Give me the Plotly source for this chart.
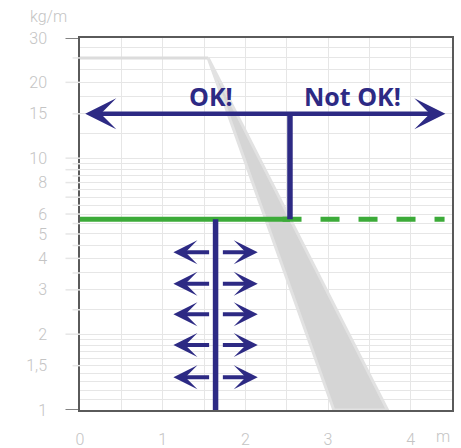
import numpy as np
import plotly.graph_objects as go

NAVY = "#2d2a84"
GREEN = "#3cab39"
GRID = "#e6e6e6"
AXIS = "#5a5a5a"
LABEL = "#c4c4c4"

# axes
X_TICKS = [0, 1, 2, 3, 4]
X_TICK_TEXT = ["0", "1", "2", "3", "4"]
X_GRID = [0.5, 1.5, 2.5, 3.5]
Y_TICKS = [1, 1.5, 2, 3, 4, 5, 6, 8, 10, 15, 20, 30]
Y_TICK_TEXT = ["1", "1,5", "2", "3", "4", "5", "6", "8", "10", "15", "20", "30"]
Y_GRID = [1.1, 1.2, 1.3, 1.4, 1.6, 1.7, 1.8, 1.9,
          2.5, 3.5, 4.5, 5.5, 6.5, 7, 7.5, 8.5, 9, 9.5,
          12.5, 17.5, 22.5, 25, 27.5]
LONG_TICKS = [1, 2, 3, 4, 5, 6, 7, 8, 9, 10, 20, 30]
SHORT_TICKS = [1.5, 2.5, 3.5, 4.5, 5.5, 6.5, 7.5, 8.5, 9.5, 15, 25]

# grey band (plateau, then falling wedge)
BAND_X = [0, 1.55]
BAND_Y = [25, 25]
WEDGE_X = [1.55, 3.72, 3.07]
WEDGE_Y = [25, 1, 1]

# limit lines
LIMIT_Y = 5.72
SPLIT_X = 2.54
DASH_X = [2.45, 4.41]
OK_Y = 15
OK_ARROW_X = [0.045, 4.42]
POST_X = 1.64

# small double arrows
SMALL_Y = [4.23, 3.17, 2.40, 1.81, 1.35]
LEFT_ARROW = [1.58, 1.13]   # tail, tip
RIGHT_ARROW = [1.71, 2.15]  # tail, tip

LABELS = ["OK!", "Not OK!"]
LABEL_X = [1.58, 3.30]
LABEL_Y = 17.6

fig = go.Figure()

fig.add_trace(go.Scatter(x=BAND_X, y=BAND_Y, mode="lines",
                         line=dict(color="#dcdcdc", width=3), hoverinfo="skip"))
fig.add_trace(go.Scatter(x=WEDGE_X + WEDGE_X[:1], y=WEDGE_Y + WEDGE_Y[:1], mode="lines",
                         fill="toself", fillcolor="#d5d5d5",
                         line=dict(color="#e2e2e2", width=3), hoverinfo="skip"))

# green limit: solid up to the split, dashed after it
fig.add_trace(go.Scatter(x=DASH_X, y=[LIMIT_Y] * 2, mode="lines",
                         line=dict(color=GREEN, width=5, dash="19px,19px")))
fig.add_trace(go.Scatter(x=[0, SPLIT_X], y=[LIMIT_Y] * 2, mode="lines",
                         line=dict(color=GREEN, width=5)))

# navy posts
fig.add_trace(go.Scatter(x=[SPLIT_X, SPLIT_X], y=[OK_Y, LIMIT_Y], mode="lines",
                         line=dict(color=NAVY, width=5.5)))
fig.add_trace(go.Scatter(x=[POST_X, POST_X], y=[LIMIT_Y, 1], mode="lines",
                         line=dict(color=NAVY, width=5.5)))

annotations = []


def arrow(x_tail, x_tip, y, width, size, both=False):
    return dict(x=x_tip, y=np.log10(y), ax=x_tail, ay=np.log10(y),
                xref="x", yref="y", axref="x", ayref="y", text="",
                showarrow=True, arrowhead=3, startarrowhead=3,
                arrowside="end+start" if both else "end",
                arrowwidth=width, arrowsize=size, startarrowsize=size,
                arrowcolor=NAVY, standoff=0, startstandoff=0)


annotations.append(arrow(OK_ARROW_X[0], OK_ARROW_X[1], OK_Y, 4.5, 1.15, both=True))
for yv in SMALL_Y:
    annotations.append(arrow(LEFT_ARROW[0], LEFT_ARROW[1], yv, 4, 1.0))
    annotations.append(arrow(RIGHT_ARROW[0], RIGHT_ARROW[1], yv, 4, 1.0))

for txt, xv in zip(LABELS, LABEL_X):
    annotations.append(dict(x=xv, y=np.log10(LABEL_Y), xref="x", yref="y", text=txt,
                            showarrow=False,
                            font=dict(family="Open Sans", size=25, color=NAVY, weight="bold")))

annotations.append(dict(x=-0.085, y=1.057, xref="paper", yref="paper", text="kg/m",
                        showarrow=False, xanchor="center", yanchor="middle",
                        font=dict(family="Roboto", size=16, color=LABEL, weight=300)))
annotations.append(dict(x=0.977, y=-0.072, xref="paper", yref="paper", text="m",
                        showarrow=False, xanchor="center", yanchor="middle",
                        font=dict(family="Roboto", size=16, color=LABEL, weight=300)))

# tick marks left of the y axis
shapes = []
for yv in LONG_TICKS:
    shapes.append(dict(type="line", xref="paper", yref="y", x0=-0.039, x1=0, y0=yv, y1=yv,
                       line=dict(color=GRID if yv not in (1, 30) else AXIS, width=1.5)))
for yv in SHORT_TICKS:
    shapes.append(dict(type="line", xref="paper", yref="y", x0=-0.02, x1=0, y0=yv, y1=yv,
                       line=dict(color=GRID, width=1.5)))

fig.update_layout(
    width=461, height=448,
    margin=dict(l=80, r=9, t=38, b=38),
    plot_bgcolor="white", paper_bgcolor="white",
    showlegend=False,
    annotations=annotations, shapes=shapes,
    font=dict(family="Roboto", size=16, color=LABEL, weight=300),
)
fig.update_xaxes(
    range=[0, 4.5], tickvals=X_TICKS, ticktext=X_TICK_TEXT, ticks="",
    showgrid=True, gridcolor=GRID, gridwidth=1.3,
    minor=dict(tickvals=X_GRID, showgrid=True, gridcolor=GRID, gridwidth=1.3, ticks=""),
    showline=True, linecolor=AXIS, linewidth=1.5, mirror=True,
    zeroline=False, ticklabelstandoff=14, automargin=False,
    tickfont=dict(family="Roboto", size=16, color=LABEL, weight=300),
)
fig.update_yaxes(
    type="log", range=[0, np.log10(30)], tickvals=Y_TICKS, ticktext=Y_TICK_TEXT, ticks="",
    showgrid=True, gridcolor=GRID, gridwidth=1.3,
    minor=dict(tickvals=Y_GRID, showgrid=True, gridcolor=GRID, gridwidth=1.3, ticks=""),
    showline=True, linecolor=AXIS, linewidth=1.5, mirror=True,
    zeroline=False, ticklabelstandoff=28, automargin=False,
    tickfont=dict(family="Roboto", size=16, color=LABEL, weight=300),
)

fig.write_html("out.html", config={"displayModeBar": False},
               post_script="document.body.style.margin='0';")
